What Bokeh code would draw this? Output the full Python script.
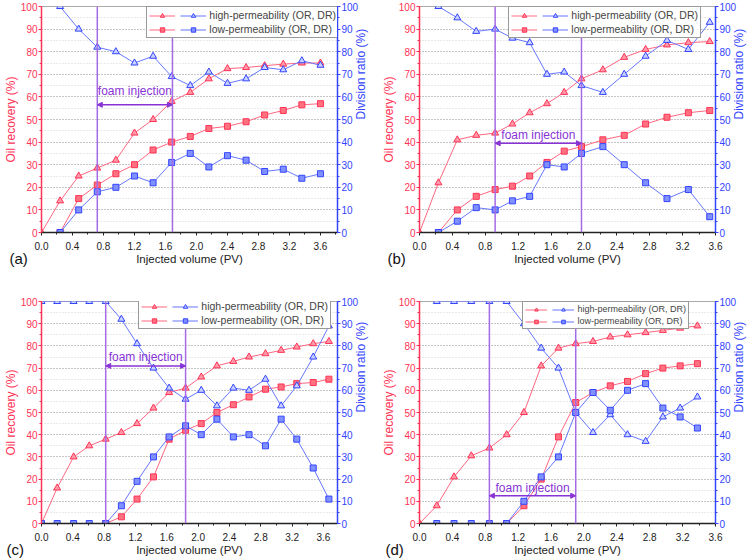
import math
from bokeh.plotting import figure
from bokeh.models import (Range1d, LinearAxis, Span, Arrow, NormalHead, Label, Title,
                          Legend, LegendItem, SingleIntervalTicker, CustomJSTickFormatter)
from bokeh.layouts import gridplot
from bokeh.embed import file_html
from bokeh.resources import INLINE

# ---------------- data ----------------
# panel (a)
a_x = [0.0, 0.24, 0.48, 0.72, 0.96, 1.20, 1.44, 1.68, 1.92, 2.16, 2.40, 2.64, 2.88, 3.12, 3.36, 3.60]
a_or_high = [0, 14, 25, 28.5, 32, 44, 50, 58, 62, 68, 72.5, 73, 73.8, 74.5, 75, 75]
a_x_low = a_x[1:]
a_or_low = [0, 15, 21, 26, 30, 36.5, 40, 42.5, 46, 47, 49, 52, 54, 56.5, 57]
a_x_dr = a_x[1:]
a_dr_high = [100, 90, 82, 80, 75, 78, 69, 65, 71, 66, 68, 73, 72, 76, 74]
a_dr_low = [0, 10, 18, 20, 25, 22, 31, 35, 29, 34, 32, 27, 28, 24, 26]
a_foam = [0.72, 1.69]

# panel (b)
b_x = [0.0, 0.23, 0.46, 0.69, 0.92, 1.13, 1.34, 1.55, 1.76, 1.97, 2.23, 2.49, 2.75, 3.01, 3.27, 3.53]
b_or_high = [0, 22, 41, 43, 44, 48, 53, 57, 62, 68, 72, 77.5, 81, 83, 84, 84.5]
b_x_low = b_x[1:]
b_or_low = [0, 10, 16, 19, 20.5, 25, 31, 36, 38, 41, 43, 48, 51, 53, 54]
b_x_dr = b_x[1:]
b_dr_high = [100, 95, 89, 90, 86, 84, 70, 71, 65, 62, 70, 78, 85, 81, 93]
b_dr_low = [0, 5, 11, 10, 14, 16, 30, 29, 35, 38, 30, 22, 15, 19, 7]
b_foam = [0.92, 1.97]

# panel (c)
c_x = [0.0, 0.20, 0.41, 0.61, 0.82, 1.02, 1.22, 1.43, 1.63, 1.84, 2.04, 2.24, 2.45, 2.65, 2.86, 3.06, 3.26, 3.47, 3.67]
c_or_high = [0, 16, 30, 35, 38, 41, 45, 52, 59, 61, 66, 71, 73, 75, 76.5, 78, 79.5, 81, 82]
c_x_low = c_x[4:]
c_or_low = [0, 3, 11, 21, 38, 42, 45, 50, 53.5, 57, 60.5, 61.5, 63, 63.5, 65]
c_x_dr = c_x
c_dr_high = [100, 100, 100, 100, 100, 92, 81, 70, 61, 56, 60, 53, 61, 60, 65, 53, 62, 75, 89]
c_dr_low = [0, 0, 0, 0, 0, 8, 19, 30, 39, 44, 40, 47, 39, 40, 35, 47, 38, 25, 11]
c_foam = [0.82, 1.84]

# panel (d)
d_x = [0.0, 0.21, 0.42, 0.63, 0.85, 1.06, 1.27, 1.48, 1.69, 1.90, 2.11, 2.32, 2.53, 2.75, 2.96, 3.17, 3.38]
d_or_high = [0, 8, 21, 30.5, 34, 40, 50, 71, 79, 81, 82, 84, 85, 86, 87, 88, 89]
d_x_low = d_x[5:]
d_or_low = [0, 8, 20, 39, 54.5, 59, 62, 64, 67.5, 70, 71, 72]
d_x_dr = d_x[1:]
d_dr_high = [100, 100, 100, 100, 100, 90, 79, 70, 50, 41, 49, 40, 37, 48, 52, 57]
d_dr_low = [0, 0, 0, 0, 0, 10, 21, 30, 50, 59, 51, 60, 63, 52, 48, 43]
d_foam = [0.85, 1.90]

labels_panel = ["(a)", "(b)", "(c)", "(d)"]
x_label = "Injected volume (PV)"
y_left_label = "Oil recovery (%)"
y_right_label = "Division ratio (%)"
legend_labels = ["high-permeability (OR, DR)", "low-permeability (OR, DR)"]
foam_text = "foam injection"

# ---------------- style ----------------
RED = "#ff3355"
RED_LINE = "#ff6680"
BLUE = "#3344ff"
BLUE_LINE = "#6677ff"
PURPLE = "#a56be6"
PURPLE_TXT = "#8833d6"
FONT = "Liberation Sans"


def style_axis(ax, color, label_color, label_size, standoff, label_standoff):
    ax.axis_line_color = color
    ax.axis_line_width = 1.5
    ax.major_tick_line_color = color
    ax.minor_tick_line_color = color
    ax.major_tick_out = 3
    ax.major_tick_in = 0
    ax.minor_tick_out = 2
    ax.minor_tick_in = 0
    ax.major_label_text_color = label_color
    ax.major_label_text_font = FONT
    ax.major_label_text_font_size = "10px"
    ax.major_label_standoff = standoff
    ax.axis_label_text_color = label_color
    ax.axis_label_text_font = FONT
    ax.axis_label_text_font_style = "normal"
    ax.axis_label_text_font_size = label_size
    ax.axis_label_standoff = label_standoff


def make_panel(tag, xmax, x, or_high, x_low, or_low, x_dr, dr_high, dr_low, foam,
               arrow_y, text_y, leg, borders):
    left, right, top, bottom = borders
    W, H = 378, 280
    p = figure(width=W, height=H, x_range=Range1d(0, xmax), y_range=Range1d(0, 100),
               output_backend="svg", toolbar_location=None,
               min_border_left=left, min_border_right=right,
               min_border_top=top, min_border_bottom=bottom)
    p.extra_y_ranges = {"dr": Range1d(0, 100)}
    p.outline_line_color = "#aaaaaa"
    p.xgrid.grid_line_color = None
    p.ygrid.grid_line_color = "#a0a0a0"
    p.ygrid.grid_line_dash = "1 2"
    p.ygrid.minor_grid_line_color = "#d4d4d4"
    p.ygrid.minor_grid_line_dash = "1 2"

    p.xaxis.ticker = SingleIntervalTicker(interval=0.4, num_minor_ticks=2)
    p.xaxis.formatter = CustomJSTickFormatter(code="return tick.toFixed(1);")
    style_axis(p.xaxis[0], "#222222", "#222222", "11.5px", 6, 0)
    p.xaxis.axis_label = x_label

    p.yaxis.ticker = SingleIntervalTicker(interval=10, num_minor_ticks=2)
    style_axis(p.yaxis[0], RED, RED, "12px", 1, 0)
    p.yaxis.axis_label = y_left_label

    ax_r = LinearAxis(y_range_name="dr", ticker=SingleIntervalTicker(interval=10, num_minor_ticks=2),
                      axis_label=y_right_label)
    style_axis(ax_r, BLUE, BLUE, "12px", 1, 0)
    ax_r.axis_label_orientation = math.pi / 2
    p.add_layout(ax_r, "right")

    # foam injection markers
    for f in foam:
        p.add_layout(Span(location=f, dimension="height", line_color=PURPLE, line_width=1.5))
    p.add_layout(Arrow(x_start=foam[0], x_end=foam[1], y_start=arrow_y, y_end=arrow_y,
                       line_color=PURPLE_TXT, line_width=1.5,
                       start=NormalHead(size=5, fill_color=PURPLE_TXT, line_color=PURPLE_TXT),
                       end=NormalHead(size=5, fill_color=PURPLE_TXT, line_color=PURPLE_TXT)))
    p.add_layout(Label(x=(foam[0] + foam[1]) / 2, y=text_y, text=foam_text,
                       text_align="center", text_baseline="middle", text_color=PURPLE_TXT,
                       text_font=FONT, text_font_size="12px"))

    # series
    rl_hi = p.line(x, or_high, line_color=RED_LINE, line_width=1)
    rs_hi = p.scatter(x, or_high, marker="triangle", size=7, line_color=RED, fill_color="#ff99aa")
    rl_lo = p.line(x_low, or_low, line_color=RED_LINE, line_width=1)
    rs_lo = p.scatter(x_low, or_low, marker="square", size=6, line_color=RED, fill_color="#ff7080")
    bl_hi = p.line(x_dr, dr_high, line_color=BLUE_LINE, line_width=1, y_range_name="dr")
    bs_hi = p.scatter(x_dr, dr_high, marker="triangle", size=7, line_color=BLUE, fill_color="#c8d0ff",
                      y_range_name="dr")
    bl_lo = p.line(x_dr, dr_low, line_color=BLUE_LINE, line_width=1, y_range_name="dr")
    bs_lo = p.scatter(x_dr, dr_low, marker="square", size=6, line_color=BLUE, fill_color="#8090ff",
                      y_range_name="dr")

    leg_right, leg_top, fs, gw, lh = leg
    frame_w = W - left - right
    frame_h = H - top - bottom
    text_w = 12.06 * fs
    leg_w = 4 + (gw + 3 + 3) + 2 + (gw + 3 + text_w) + 4
    leg_h = 2 * lh + 2 + 4 + 2
    legend = Legend(items=[
        LegendItem(label=" ", renderers=[rl_hi, rs_hi]),
        LegendItem(label=" ", renderers=[rl_lo, rs_lo]),
        LegendItem(label=legend_labels[0], renderers=[bl_hi, bs_hi]),
        LegendItem(label=legend_labels[1], renderers=[bl_lo, bs_lo]),
    ], ncols=2, location=(frame_w - leg_right - leg_w, frame_h - leg_top - leg_h),
        glyph_width=gw, glyph_height=lh, label_height=lh, label_width=0,
        label_standoff=3, spacing=2, padding=2, margin=0,
        label_text_font=FONT, label_text_font_size=f"{fs}px",
        border_line_color="#333333", border_line_width=1, background_fill_alpha=1)
    p.add_layout(legend)

    p.add_layout(Title(text=tag, align="left", offset=-left + 3, vertical_align="top",
                       standoff=-36, text_font=FONT, text_font_size="15px",
                       text_font_style="normal", text_color="#111111"), "below")
    return p


pa = make_panel(labels_panel[0], 3.82, a_x, a_or_high, a_x_low, a_or_low, a_x_dr, a_dr_high, a_dr_low,
                a_foam, 56.5, 62.5, (6, 3, 10.5, 26, 11), (35, 34, 6, 47))
pb = make_panel(labels_panel[1], 3.6, b_x, b_or_high, b_x_low, b_or_low, b_x_dr, b_dr_high, b_dr_low,
                b_foam, 39.5, 43, (17, 2, 10.5, 26, 11), (35, 39, 6, 48))
pc = make_panel(labels_panel[2], 3.78, c_x, c_or_high, c_x_low, c_or_low, c_x_dr, c_dr_high, c_dr_low,
                c_foam, 71, 75, (9, 2, 10.5, 26, 11), (38, 36, 21, 33))
pd = make_panel(labels_panel[3], 3.6, d_x, d_or_high, d_x_low, d_or_low, d_x_dr, d_dr_high, d_dr_low,
                d_foam, 12.5, 16, (25, 2, 9, 22, 9), (37, 41, 21, 37))

grid = gridplot([[pa, pb], [pc, pd]], toolbar_location=None)

open("out.html", "w").write(file_html(grid, INLINE))
